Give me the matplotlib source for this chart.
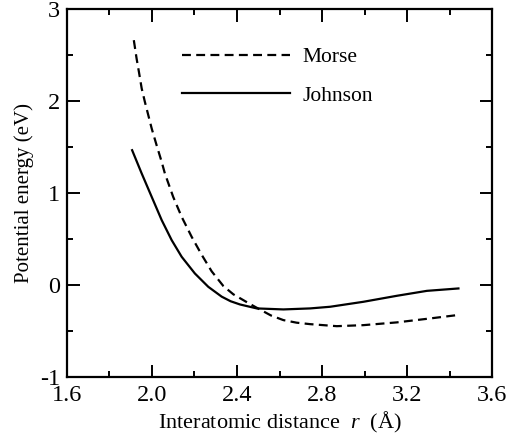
import matplotlib
matplotlib.use("Agg")
import matplotlib.pyplot as plt
from matplotlib.ticker import MultipleLocator

plt.rcParams['font.family'] = ['Liberation Serif', 'DejaVu Serif']
plt.rcParams['mathtext.fontset'] = 'custom'
plt.rcParams['mathtext.rm'] = 'Liberation Serif'
plt.rcParams['mathtext.it'] = 'Liberation Serif:italic'
plt.rcParams['axes.unicode_minus'] = False

# Morse potential
morse_r = [1.915, 1.928, 1.939, 1.952, 1.967, 1.983, 1.999, 2.022, 2.046,
           2.061, 2.100, 2.140, 2.187, 2.234, 2.281, 2.336, 2.383, 2.461,
           2.508, 2.560, 2.618, 2.680, 2.744, 2.869, 2.994, 3.151, 3.308, 3.434]
morse_e = [2.663, 2.464, 2.318, 2.138, 1.992, 1.848, 1.703, 1.522, 1.340,
           1.214, 0.960, 0.742, 0.525, 0.330, 0.150, -0.010, -0.100, -0.205,
           -0.265, -0.330, -0.380, -0.408, -0.424, -0.446, -0.435, -0.405, -0.362, -0.326]

# Johnson potential
johnson_r = [1.907, 1.952, 1.999, 2.046, 2.093, 2.140, 2.202, 2.265, 2.328,
             2.370, 2.414, 2.493, 2.618, 2.744, 2.838, 2.994, 3.151, 3.293, 3.441]
johnson_e = [1.467, 1.214, 0.960, 0.707, 0.489, 0.308, 0.127, -0.018, -0.125,
             -0.175, -0.210, -0.253, -0.264, -0.253, -0.235, -0.181, -0.116, -0.062, -0.036]

fig = plt.figure(figsize=(5.22, 4.37), dpi=100)
ax = fig.add_axes([0.128, 0.137, 0.815, 0.842])

ax.plot(morse_r, morse_e, color="black", lw=1.6, ls=(0, (4, 2.4)), label="Morse")
ax.plot(johnson_r, johnson_e, color="black", lw=1.6, label="Johnson")

ax.set_xlim(1.6, 3.6)
ax.set_ylim(-1, 3)
ax.xaxis.set_major_locator(MultipleLocator(0.4))
ax.xaxis.set_minor_locator(MultipleLocator(0.2))
ax.yaxis.set_major_locator(MultipleLocator(1))
ax.yaxis.set_minor_locator(MultipleLocator(0.5))
ax.set_xticklabels([f"{v:.1f}" for v in ax.get_xticks()])

ax.tick_params(which="both", direction="in", top=True, right=True,
               width=1.4, labelsize=17.5)
ax.tick_params(which="major", length=9)
ax.tick_params(which="minor", length=4.5)
ax.tick_params(axis="x", which="major", pad=5.5)
ax.tick_params(axis="y", which="major", pad=5)
for s in ax.spines.values():
    s.set_linewidth(1.6)

ax.set_xlabel("Interatomic distance  $r$  (Å)", fontsize=16, labelpad=3)
ax.set_ylabel("Potential energy (eV)", fontsize=15, labelpad=4)

ax.legend(loc="upper left", bbox_to_anchor=(0.271, 0.897), frameon=False,
          fontsize=15.5, handlelength=5.0, handletextpad=0.6,
          labelspacing=0.85, borderpad=0, borderaxespad=0)

plt.savefig("out.png", dpi=100)
